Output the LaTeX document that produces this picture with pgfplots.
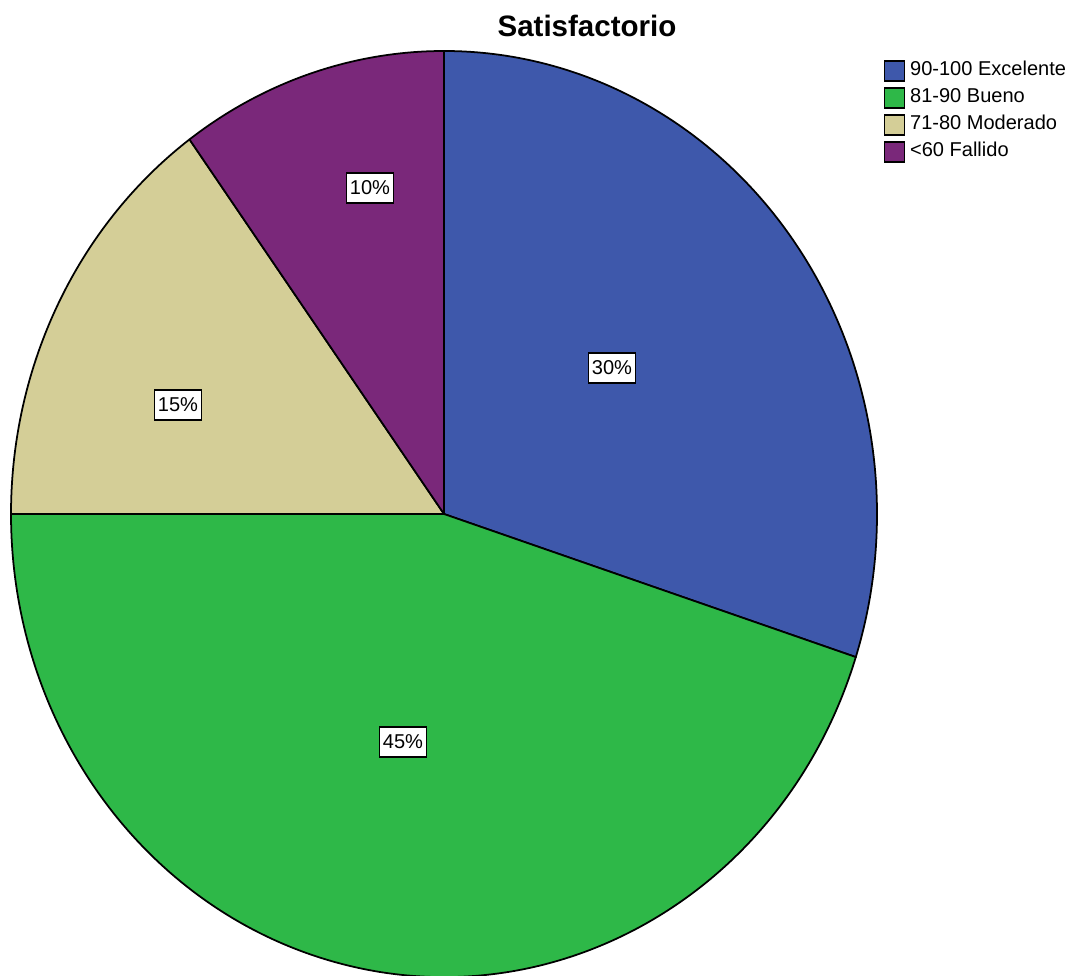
\documentclass[border=0pt]{standalone}
\usepackage{pgfplots}
\usepackage{pgfplotstable}
\pgfplotsset{compat=1.18}
\usepackage{fontspec}
\setmainfont{Liberation Sans}

\definecolor{cblue}{HTML}{3E58AB}
\definecolor{cgreen}{HTML}{2EB848}
\definecolor{ctan}{HTML}{D4CE97}
\definecolor{cpurple}{HTML}{7A287A}

% share of each category (percent), clockwise from 12 o'clock
\pgfplotstableread[col sep=comma]{
value,color,px,py
30,cblue,612,607
45,cgreen,403,233
15,ctan,178,570
10,cpurple,370,787
}\piedata

\begin{document}
\begin{tikzpicture}
\begin{axis}[
    width=10.71cm, height=9.75cm, scale only axis,
    xmin=0, xmax=1071, ymin=0, ymax=975,
    hide axis,
    legend style={draw=none, fill=none, at={(axis cs:883,918)}, anchor=north west,
        inner sep=0pt, font=\fontsize{5.7}{6.8}\selectfont,
        nodes={inner sep=0pt, minimum height=0.27cm}},
    legend cell align=left,
    legend image code/.code={\draw[#1] (0cm,-0.1cm) rectangle (0.2cm,0.1cm);},
    /tikz/every odd column/.style={column sep=0.05cm},
]
\def\startang{90}
\pgfplotsforeachungrouped \i in {0,...,3}{
  \pgfplotstablegetelem{\i}{value}\of\piedata \let\v=\pgfplotsretval
  \pgfplotstablegetelem{\i}{color}\of\piedata \let\c=\pgfplotsretval
  \pgfplotstablegetelem{\i}{px}\of\piedata \let\lx=\pgfplotsretval
  \pgfplotstablegetelem{\i}{py}\of\piedata \let\ly=\pgfplotsretval
  \pgfmathsetmacro\endang{\startang-3.6*\v}
  \pgfmathtruncatemacro\pct{\v}
  \edef\cmd{\noexpand\filldraw[fill=\c, draw=black, line width=0.5pt, line join=round]
    (axis cs:444,461) -- ++(\startang:4.33cm and 4.63cm)
    arc[start angle=\startang, end angle=\endang, x radius=4.33cm, y radius=4.63cm] -- cycle;}
  \cmd
  \edef\cmd{\noexpand\node[fill=white, draw=black, line width=0.5pt, inner xsep=0.035cm,
    inner ysep=0pt, minimum height=0.3cm, font=\noexpand\fontsize{5.7}{6.8}\noexpand\selectfont]
    at (axis cs:\lx,\ly) {\pct\noexpand\%};}
  \cmd
  \let\startang=\endang
}
\node[anchor=base, font=\fontsize{8.4}{10}\selectfont\bfseries] at (axis cs:587,938) {Satisfactorio};

\addlegendimage{fill=cblue, draw=black}
\addlegendentry{90-100 Excelente}
\addlegendimage{fill=cgreen, draw=black}
\addlegendentry{81-90 Bueno}
\addlegendimage{fill=ctan, draw=black}
\addlegendentry{71-80 Moderado}
\addlegendimage{fill=cpurple, draw=black}
\addlegendentry{<60 Fallido}
\end{axis}
\pgfresetboundingbox
\useasboundingbox (current axis.south west) rectangle (current axis.north east);
\end{tikzpicture}
\end{document}
